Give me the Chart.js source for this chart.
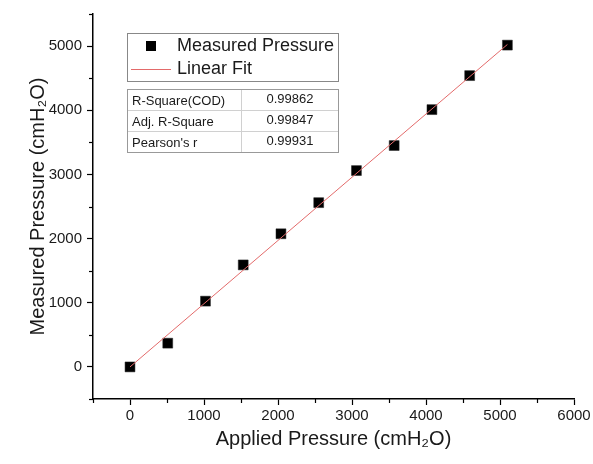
<!DOCTYPE html>
<html>
<head>
<meta charset="utf-8">
<script src="https://cdn.jsdelivr.net/npm/chart.js@4/dist/chart.umd.min.js"></script>
<style>
  html, body { margin: 0; padding: 0; background: #fff; }
  #wrap { position: relative; width: 593px; height: 464px; }
</style>
</head>
<body>
<div id="wrap"><canvas id="c" width="593" height="464"></canvas></div>
<script>
const appliedPressure = [0, 510, 1020, 1530, 2040, 2550, 3060, 3570, 4080, 4590, 5100];
const measuredPressure = [0, 370, 1025, 1590, 2075, 2560, 3060, 3450, 4010, 4540, 5015];
const fitX = [0, 5100];
const fitY = [0, 5025];
const seriesNames = ['Measured Pressure', 'Linear Fit'];
const statLabels = ['R-Square(COD)', 'Adj. R-Square', "Pearson's r"];
const statValues = ['0.99862', '0.99847', '0.99931'];
const xTitle = 'Applied Pressure (cmH\u2082O)';
const yTitle = 'Measured Pressure (cmH\u2082O)';

const FONT = '"Liberation Sans", Arial, sans-serif';
const TEXT = '#1a1a1a';
const FIT_COLOR = '#e36a6a';

const minorTicks = {
  id: 'minorTicks',
  afterDraw(chart) {
    const ctx = chart.ctx;
    const xs = chart.scales.x, ys = chart.scales.y;
    ctx.save();
    ctx.strokeStyle = '#000';
    ctx.lineWidth = 1.2;
    for (let v = -500; v <= 6000; v += 1000) {
      const px = Math.round(xs.getPixelForValue(v)) + 0.5;
      ctx.beginPath(); ctx.moveTo(px, xs.top); ctx.lineTo(px, xs.top + 4); ctx.stroke();
    }
    for (let v = -500; v <= 5500; v += 1000) {
      const py = Math.round(ys.getPixelForValue(v)) + 0.5;
      ctx.beginPath(); ctx.moveTo(ys.right, py); ctx.lineTo(ys.right - 4, py); ctx.stroke();
    }
    ctx.restore();
  }
};

const legendTable = {
  id: 'legendTable',
  afterDraw(chart) {
    const ctx = chart.ctx;
    ctx.save();
    // legend box
    ctx.strokeStyle = '#888';
    ctx.lineWidth = 1;
    ctx.strokeRect(127.5, 33.5, 211, 48);
    ctx.fillStyle = '#000';
    ctx.fillRect(146, 41, 10, 10);
    ctx.strokeStyle = FIT_COLOR;
    ctx.beginPath(); ctx.moveTo(131, 69.5); ctx.lineTo(171, 69.5); ctx.stroke();
    ctx.fillStyle = TEXT;
    ctx.font = '18px ' + FONT;
    ctx.textBaseline = 'middle';
    ctx.textAlign = 'left';
    ctx.fillText(seriesNames[0], 177, 46);
    ctx.fillText(seriesNames[1], 177, 69);
    // stats table
    const tx = 127.5, ty = 89.5, tw = 211, rh = 21, cx = 241.5;
    ctx.strokeStyle = '#d0d0d0';
    for (let i = 1; i < statLabels.length; i++) {
      ctx.beginPath(); ctx.moveTo(tx, ty + rh * i); ctx.lineTo(tx + tw, ty + rh * i); ctx.stroke();
    }
    ctx.beginPath(); ctx.moveTo(cx, ty); ctx.lineTo(cx, ty + rh * statLabels.length); ctx.stroke();
    ctx.strokeStyle = '#999';
    ctx.strokeRect(tx, ty, tw, rh * statLabels.length);
    ctx.font = '13px ' + FONT;
    ctx.fillStyle = TEXT;
    for (let i = 0; i < statLabels.length; i++) {
      const yy = ty + rh * i + rh / 2 + 1;
      ctx.textAlign = 'left';
      ctx.fillText(statLabels[i], 132, yy);
      ctx.textAlign = 'center';
      ctx.fillText(statValues[i], 290, yy - 2);
    }
    ctx.restore();
  }
};

const scatterData = appliedPressure.map((x, i) => ({ x, y: measuredPressure[i] }));
const fitData = fitX.map((x, i) => ({ x, y: fitY[i] }));

new Chart(document.getElementById('c'), {
  type: 'scatter',
  data: {
    datasets: [
      {
        label: seriesNames[1],
        type: 'line',
        data: fitData,
        borderColor: FIT_COLOR,
        borderWidth: 1,
        pointRadius: 0,
        fill: false,
        order: 0
      },
      {
        label: seriesNames[0],
        data: scatterData,
        pointStyle: 'rect',
        pointRadius: 7,
        backgroundColor: '#000',
        borderColor: '#222',
        borderWidth: 0.5,
        order: 1
      }
    ]
  },
  options: {
    responsive: false,
    animation: false,
    devicePixelRatio: 1,
    layout: { padding: { left: 0, top: 11, right: 19, bottom: 0 } },
    plugins: { legend: { display: false }, tooltip: { enabled: false } },
    scales: {
      x: {
        type: 'linear',
        min: -500, max: 6000,
        afterFit(s) { s.height = 65; },
        border: { display: true, color: '#000', width: 1.5 },
        grid: {
          drawOnChartArea: false, drawTicks: true, tickLength: 6,
          tickColor: c => (c.tick && c.tick.value % 1000 === 0) ? '#000' : 'rgba(0,0,0,0)',
          tickWidth: 1.2
        },
        ticks: {
          stepSize: 500, autoSkip: false, maxRotation: 0, padding: 2,
          color: TEXT, font: { family: FONT, size: 15 },
          callback: v => (v % 1000 === 0 ? String(v) : '')
        },
        title: { display: true, text: xTitle, color: TEXT, font: { family: FONT, size: 20 }, padding: { top: 0, bottom: 13 } }
      },
      y: {
        type: 'linear',
        min: -500, max: 5500,
        afterFit(s) { s.width = 93; },
        border: { display: true, color: '#000', width: 1.5 },
        grid: {
          drawOnChartArea: false, drawTicks: true, tickLength: 6,
          tickColor: c => (c.tick && c.tick.value % 1000 === 0) ? '#000' : 'rgba(0,0,0,0)',
          tickWidth: 1.2
        },
        ticks: {
          stepSize: 500, autoSkip: false, padding: 5,
          color: TEXT, font: { family: FONT, size: 15 },
          callback: v => (v % 1000 === 0 ? String(v) : '')
        },
        title: { display: true, text: yTitle, color: TEXT, font: { family: FONT, size: 20 }, padding: { top: 26, bottom: 0 } }
      }
    }
  },
  plugins: [minorTicks, legendTable]
});
</script>
</body>
</html>
